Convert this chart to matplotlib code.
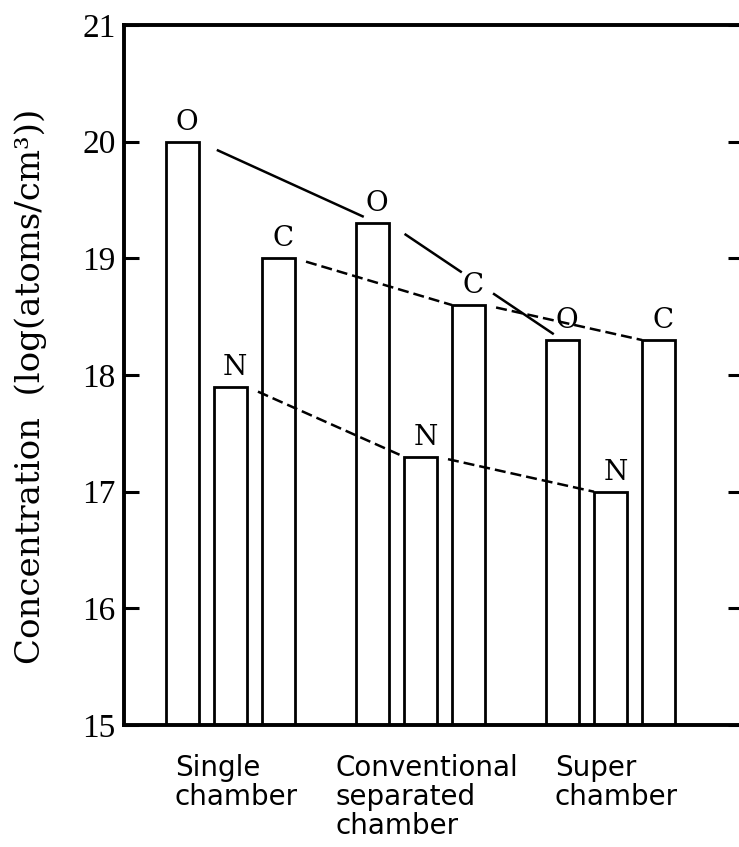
import numpy as np
import matplotlib.pyplot as plt
from matplotlib.transforms import ScaledTranslation

# impurity levels, log10(atoms/cm^3), for each deposition system
systems = ["Single\nchamber", "Conventional\nseparated\nchamber", "Super\nchamber"]
elements = ["O", "N", "C"]
oxygen = [20.0, 19.3, 18.3]
nitrogen = [17.9, 17.3, 17.0]
carbon = [19.0, 18.6, 18.3]
yticks = [15, 16, 17, 18, 19, 20, 21]

series = {"O": oxygen, "N": nitrogen, "C": carbon}

fig = plt.figure(figsize=(7.39, 8.47), dpi=100)
ax = fig.add_axes([0.1678, 0.1440, 0.8376, 0.8264])

group_x = np.arange(len(systems))
step = 0.253
width = 0.174
base = 15

bar_x = {}
for i, el in enumerate(elements):
    xs = group_x + (i - 1) * step
    bar_x[el] = xs
    vals = np.array(series[el])
    ax.bar(xs, vals - base, width, bottom=base, facecolor="white",
           edgecolor="black", linewidth=2.0, zorder=2)
    for x, v in zip(xs, vals):
        ax.annotate(el, (x, v), xytext=(3.5, 14), textcoords="offset points",
                    ha="center", va="center", fontsize=20,
                    family="DejaVu Serif", fontweight="medium")


def connector(p0, p1, spans, **kw):
    # straight guide between two bar tops, drawn only over the given fractions
    (x0, y0), (x1, y1) = p0, p1
    for t0, t1 in spans:
        ax.plot([x0 + t0 * (x1 - x0), x0 + t1 * (x1 - x0)],
                [y0 + t0 * (y1 - y0), y0 + t1 * (y1 - y0)],
                color="black", lw=1.8, zorder=3, solid_capstyle="butt", **kw)


half = width / 2
ox, cx, nx = bar_x["O"], bar_x["C"], bar_x["N"]
connector((ox[0] + half, oxygen[0]), (ox[1] + 0.03, oxygen[1]), [(0.1, 0.92)])
connector((ox[1] + half, oxygen[1]), (ox[2], oxygen[2]), [(0.09, 0.42), (0.60, 0.95)])
for xs, vals in ((cx, carbon), (nx, nitrogen)):
    for i in range(len(xs) - 1):
        connector((xs[i] + half, vals[i]), (xs[i + 1] - half, vals[i + 1]),
                  [(0.07, 1.0)], linestyle=(0, (4.4, 2.0)))

ax.set_xlim(-0.56, 2.697)
ax.set_ylim(15, 21)
ax.set_yticks(yticks)
ax.tick_params(axis="y", direction="in", length=10.8, width=2.2,
               left=True, right=True, pad=6, labelsize=24)
for lbl in ax.get_yticklabels():
    lbl.set_family("Liberation Serif")

ax.set_xticks(group_x, systems)
ax.tick_params(axis="x", length=0, pad=21, labelsize=20)
shift = ScaledTranslation(0.06, 0, fig.dpi_scale_trans)
for lbl in ax.get_xticklabels():
    lbl.set_multialignment("left")
    lbl.set_linespacing(1.05)
    lbl.set_transform(lbl.get_transform() + shift)

for sp in ax.spines.values():
    sp.set_linewidth(2.8)

ax.set_ylabel("Concentration  (log(atoms/cm³))", fontsize=24.5, family="DejaVu Serif")
ax.yaxis.set_label_coords(-0.125, 0.484)

fig.savefig("out.png", dpi=100, facecolor="white")
